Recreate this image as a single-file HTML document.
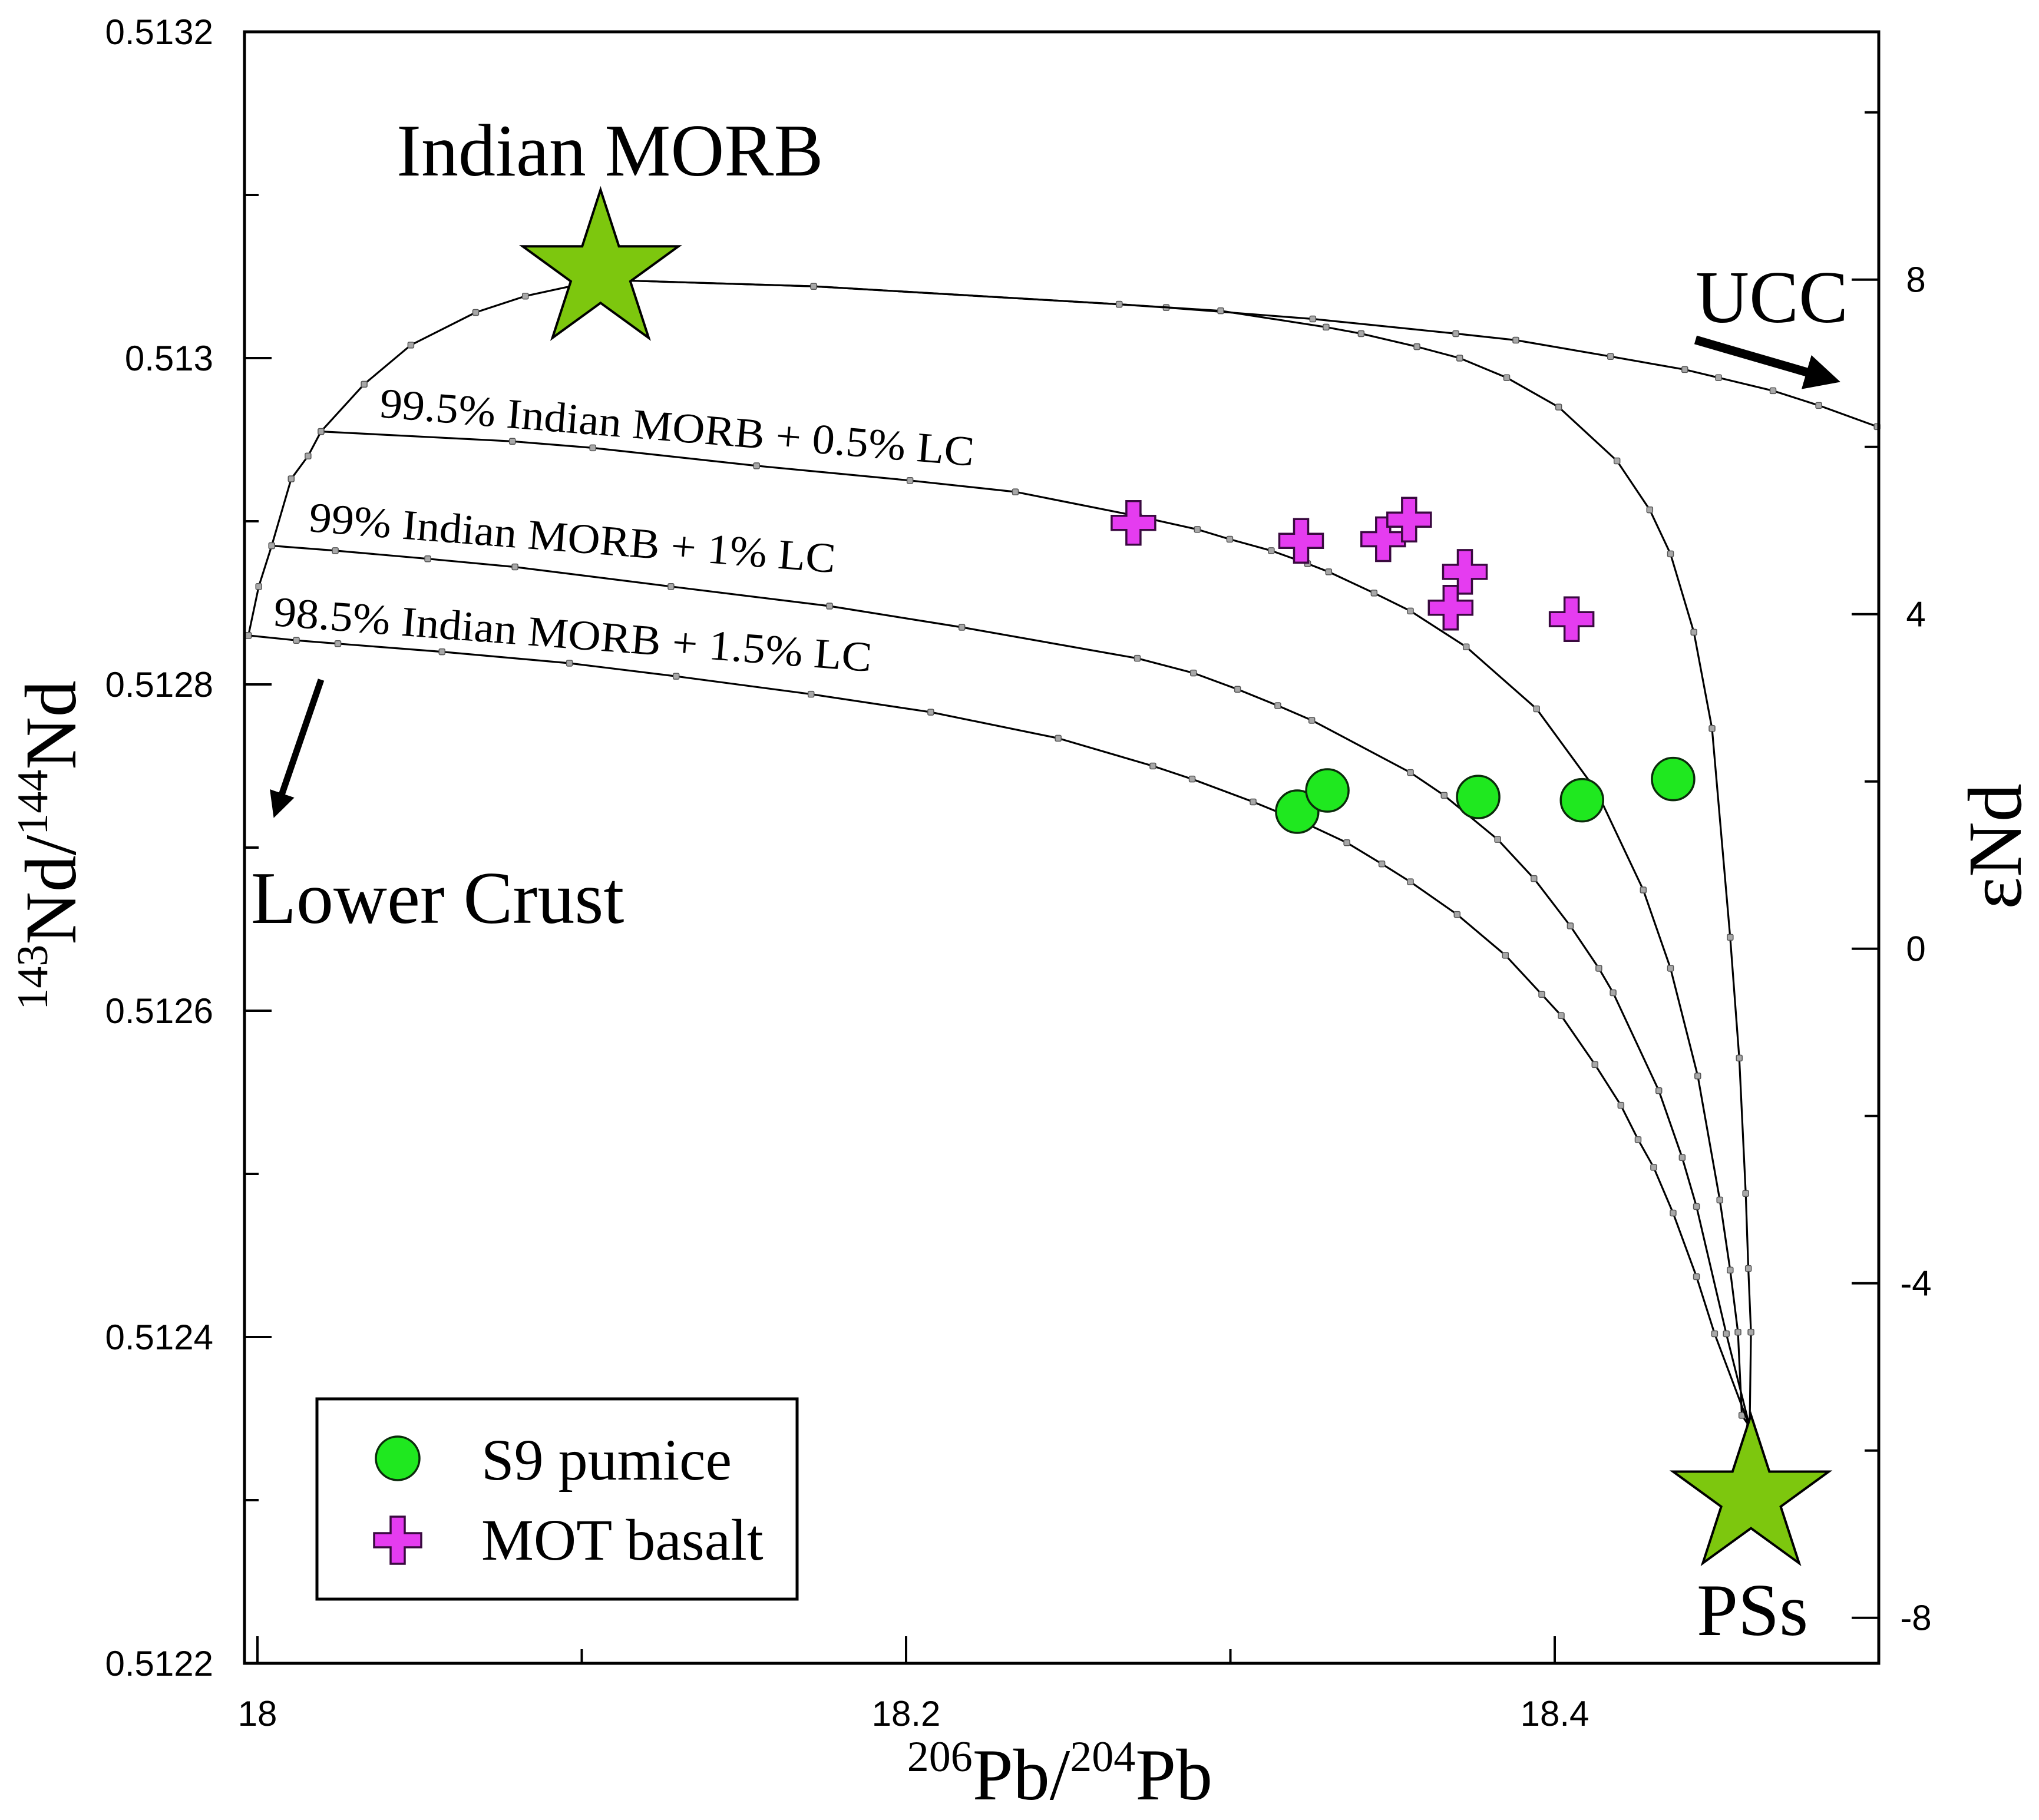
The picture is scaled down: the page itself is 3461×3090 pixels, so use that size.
<!DOCTYPE html>
<html><head><meta charset="utf-8">
<style>
html,body{margin:0;padding:0;background:#fff;}
svg{display:block;}
.tk{font-family:"Liberation Sans",Arial,sans-serif;font-size:60px;fill:#000;}
.tm{font-family:"Liberation Serif","Times New Roman",serif;fill:#000;}
</style></head>
<body>
<svg id="chart" xmlns="http://www.w3.org/2000/svg" width="3461" height="3090" viewBox="0 0 3461 3090">
<rect x="0" y="0" width="3461" height="3090" fill="#fff"/>
<g id="curves"></g>
<g id="marks"></g>
<g id="axes"></g>
<g id="labels"></g>
</svg>
<script>
// ---- data ----
const lcX = [18.1058,18.0826,18.0673,18.0473,18.0329,18.0196,18.0156,18.0104,18.0044,18.0004,17.9972];
const lcY = [0.513048,0.513038,0.513028,0.513008,0.512984,0.512955,0.512940,0.512926,0.512885,0.512860,0.512830];
const uccX = [18.1058,18.1715,18.2657,18.2802,18.3254,18.3695,18.3880,18.4172,18.4401,18.4505,18.4673,18.4814,18.4994];
const uccY = [0.513048,0.513044,0.513033,0.513031,0.513024,0.513015,0.513011,0.513001,0.512993,0.512988,0.512980,0.512971,0.512958];
const pssX = [18.1058,18.1715,18.2657,18.2970,18.3295,18.3403,18.3575,18.3707,18.3852,18.4012,18.4192,18.4293,18.4357,18.4429,18.4485,18.4541,18.4569,18.4589,18.4597,18.4605,18.4601];
const pssY = [0.513048,0.513044,0.513033,0.513029,0.513019,0.513015,0.513007,0.513000,0.512988,0.512970,0.512937,0.512907,0.512880,0.512832,0.512773,0.512645,0.512571,0.512488,0.512442,0.512403,0.512345];
const mix05X = [18.0196,18.0786,18.1034,18.1539,18.2012,18.2337,18.2717,18.2898,18.2998,18.3126,18.3238,18.3303,18.3443,18.3555,18.3727,18.3944,18.4128,18.4273,18.4357,18.4441,18.4509,18.4541,18.4565,18.4577,18.4601];
const mix05Y = [0.512955,0.512949,0.512945,0.512934,0.512925,0.512918,0.512903,0.512895,0.512889,0.512882,0.512874,0.512869,0.512856,0.512845,0.512823,0.512785,0.512735,0.512674,0.512626,0.512560,0.512484,0.512441,0.512403,0.512352,0.512345];
const mix10X = [18.0044,18.0240,18.0525,18.0794,18.1275,18.1764,18.2172,18.2713,18.2886,18.3022,18.3146,18.3251,18.3555,18.3659,18.3824,18.3936,18.4048,18.4136,18.4180,18.4321,18.4393,18.4437,18.4529,18.4601];
const mix10Y = [0.512885,0.512882,0.512877,0.512872,0.512860,0.512848,0.512835,0.512816,0.512807,0.512797,0.512787,0.512778,0.512746,0.512732,0.512705,0.512681,0.512652,0.512626,0.512611,0.512551,0.512510,0.512480,0.512402,0.512345];
const mix15X = [17.9972,18.0120,18.0248,18.0569,18.0962,18.1291,18.1707,18.2076,18.2469,18.2761,18.2882,18.3070,18.3230,18.3359,18.3467,18.3555,18.3699,18.3848,18.3960,18.4020,18.4124,18.4204,18.4257,18.4305,18.4365,18.4437,18.4493,18.4601];
const mix15Y = [0.512830,0.512827,0.512825,0.512820,0.512813,0.512805,0.512794,0.512783,0.512767,0.512750,0.512742,0.512728,0.512715,0.512703,0.512690,0.512679,0.512659,0.512634,0.512610,0.512597,0.512567,0.512542,0.512521,0.512504,0.512476,0.512437,0.512402,0.512345];
const pumiceX = [18.3206,18.3299,18.3764,18.4084,18.4365];
const pumiceY = [0.512722,0.512735,0.512731,0.512729,0.512742];
const basaltX = [18.2701,18.3218,18.3471,18.3551,18.3723,18.3679,18.4052];
const basaltY = [0.512899,0.512888,0.512889,0.512901,0.512869,0.512847,0.512840];
const endX = [18.1058,18.4605];
const endY = [0.513053,0.512302];
const yTicks = ["0.5122","0.5124","0.5126","0.5128","0.513","0.5132"];
const yTickVals = [0.5122,0.5124,0.5126,0.5128,0.5130,0.5132];
const xTicks = ["18","18.2","18.4"];
const xTickVals = [18.0,18.2,18.4];
const eTicks = ["-8","-4","0","4","8"];
const eTickVals = [-8,-4,0,4,8];

// ---- scales ----
const L=415,R=3189,T=54,B=2824;
function sx(x){return 437+(x-18)*5505;}
function sy(y){return 54+(0.5132-y)*2770000;}
function se(e){return sy(0.512638*(1+e/10000));}
const NS="http://www.w3.org/2000/svg";
function mk(tag,attrs,parent){const el=document.createElementNS(NS,tag);for(const k in attrs)el.setAttribute(k,attrs[k]);parent.appendChild(el);return el;}
const gC=document.getElementById('curves'),gM=document.getElementById('marks'),gA=document.getElementById('axes'),gL=document.getElementById('labels');

// ---- curves ----
function curve(xs,ys,name){
  const d=xs.map((x,i)=>(i?'L':'M')+sx(x).toFixed(1)+' '+sy(ys[i]).toFixed(1)).join(' ');
  const p=mk('path',{d:d,fill:'none',stroke:'#000','stroke-width':3.2},gC);
  
  
  xs.forEach((x,i)=>{
    const r=mk('rect',{x:sx(x)-5,y:sy(ys[i])-5,width:10,height:10,rx:2,fill:'#a8a8a8',stroke:'#555','stroke-width':1.5},gC);
    
    
  });
}
curve(lcX,lcY,'morb-lc-mixing-line');
curve(uccX,uccY,'morb-ucc-mixing-line');
curve(pssX,pssY,'morb-pss-mixing-line');
curve(mix05X,mix05Y,'mix-0.5-lc-line');
curve(mix10X,mix10Y,'mix-1-lc-line');
curve(mix15X,mix15Y,'mix-1.5-lc-line');

// ---- stars ----
function starPts(cx,cy,Ro){const ri=Ro*0.382;let p=[];for(let i=0;i<10;i++){const a=-Math.PI/2+i*Math.PI/5;const r=i%2?ri:Ro;p.push((cx+r*Math.cos(a)).toFixed(1)+','+(cy+r*Math.sin(a)).toFixed(1));}return p.join(' ');}
const starNames=['indian-morb-star','pss-star'];
endX.forEach((x,i)=>{
  const s=mk('polygon',{points:starPts(sx(x),sy(endY[i]),139),fill:'#7dc70e',stroke:'#000','stroke-width':4,'stroke-linejoin':'miter'},gM);
  
  
});

// ---- scatter ----
pumiceX.forEach((x,i)=>{
  const c=mk('circle',{cx:sx(x),cy:sy(pumiceY[i]),r:36,fill:'#1fe81f',stroke:'#0b2b0b','stroke-width':3.5},gM);
  
  
});
function crossPath(cx,cy,h,w){return `M${cx-w},${cy-h}H${cx+w}V${cy-w}H${cx+h}V${cy+w}H${cx+w}V${cy+h}H${cx-w}V${cy+w}H${cx-h}V${cy-w}H${cx-w}Z`;}
basaltX.forEach((x,i)=>{
  const c=mk('path',{d:crossPath(sx(x),sy(basaltY[i]),37,12),fill:'#e53cf0',stroke:'#3a0a40','stroke-width':3.5},gM);
  
  
});

// ---- axes ----
const frame=mk('rect',{x:L,y:T,width:R-L,height:B-T,fill:'none',stroke:'#000','stroke-width':5},gA);


for(let k=0;k<=10;k++){
  const v=0.5122+k*0.0001, y=sy(v), major=(k%2===0);
  const t=mk('line',{x1:L,y1:y,x2:L+(major?46:24),y2:y,stroke:'#000','stroke-width':4},gA);
  
  
}
yTicks.forEach((lab,i)=>{
  const t=mk('text',{x:362,y:sy(yTickVals[i])+21,'text-anchor':'end',class:'tk'},gA);
  t.textContent=lab;
  
  
});
for(let e=-8;e<=10;e+=2){
  const y=se(e), major=(e%4===0);
  const t=mk('line',{x1:R,y1:y,x2:R-(major?46:24),y2:y,stroke:'#000','stroke-width':4},gA);
  
  
}
eTicks.forEach((lab,i)=>{
  const t=mk('text',{x:3252,y:se(eTickVals[i])+21,'text-anchor':'middle',class:'tk'},gA);
  t.textContent=lab;
  
  
});
for(let k=0;k<=4;k++){
  const v=18+k*0.1, x=sx(v), major=(k%2===0);
  const t=mk('line',{x1:x,y1:B,x2:x,y2:B-(major?46:24),stroke:'#000','stroke-width':4},gA);
  
  
}
xTicks.forEach((lab,i)=>{
  const t=mk('text',{x:sx(xTickVals[i]),y:2930,'text-anchor':'middle',class:'tk'},gA);
  t.textContent=lab;
  
  
});
</script>

<svg style="position:absolute;left:0;top:0;pointer-events:none" width="3461" height="3090" viewBox="0 0 3461 3090">
<defs>
<marker id="ah" markerWidth="4" markerHeight="4" refX="2.2" refY="2" orient="auto" markerUnits="strokeWidth"><path d="M0,0 L4,2 L0,4 Z" fill="#000"/></marker>
</defs>
<text class="tm" x="1799" y="3055" text-anchor="middle" font-size="124"><tspan font-size="74" dy="-48">206</tspan><tspan dy="48">Pb/</tspan><tspan font-size="74" dy="-48">204</tspan><tspan dy="48">Pb</tspan></text>
<text class="tm" transform="translate(128,1435) rotate(-90)" text-anchor="middle" font-size="124"><tspan font-size="74" dy="-48">143</tspan><tspan dy="48">Nd/</tspan><tspan font-size="74" dy="-48">144</tspan><tspan dy="48">Nd</tspan></text>
<text class="tm" transform="translate(3430,1437) rotate(-90)" text-anchor="middle" font-size="130">εNd</text>
<text class="tm" x="673" y="298" font-size="126">Indian MORB</text>
<text class="tm" x="2878" y="547" font-size="126">UCC</text>
<text class="tm" x="426" y="1567" font-size="126">Lower Crust</text>
<text class="tm" x="2880" y="2776" font-size="126">PSs</text>
<line x1="2878" y1="577" x2="3098" y2="641" stroke="#000" stroke-width="15" marker-end="url(#ah)"/>
<line x1="545" y1="1154" x2="471" y2="1370" stroke="#000" stroke-width="11" marker-end="url(#ah)"/>
<text class="tm" transform="translate(643,708) rotate(4.7)" font-size="72" textLength="1012" lengthAdjust="spacingAndGlyphs">99.5% Indian MORB + 0.5% LC</text>
<text class="tm" transform="translate(523,902) rotate(4.5)" font-size="72" textLength="896" lengthAdjust="spacingAndGlyphs">99% Indian MORB + 1% LC</text>
<text class="tm" transform="translate(463,1062) rotate(4.4)" font-size="72" textLength="1018" lengthAdjust="spacingAndGlyphs">98.5% Indian MORB + 1.5% LC</text>
<g>
<rect x="538" y="2375" width="815" height="340" fill="#fff" stroke="#000" stroke-width="5"/>
<circle cx="675" cy="2476" r="37" fill="#1fe81f" stroke="#0b2b0b" stroke-width="3.5"/>
<text class="tm" x="817" y="2512" font-size="100">S9 pumice</text>
<path d="M663,2575H687V2603H715V2627H687V2655H663V2627H635V2603H663Z" fill="#e53cf0" stroke="#3a0a40" stroke-width="3.5"/>
<text class="tm" x="817" y="2648" font-size="100">MOT basalt</text>
</g>
</svg>
</body></html>
